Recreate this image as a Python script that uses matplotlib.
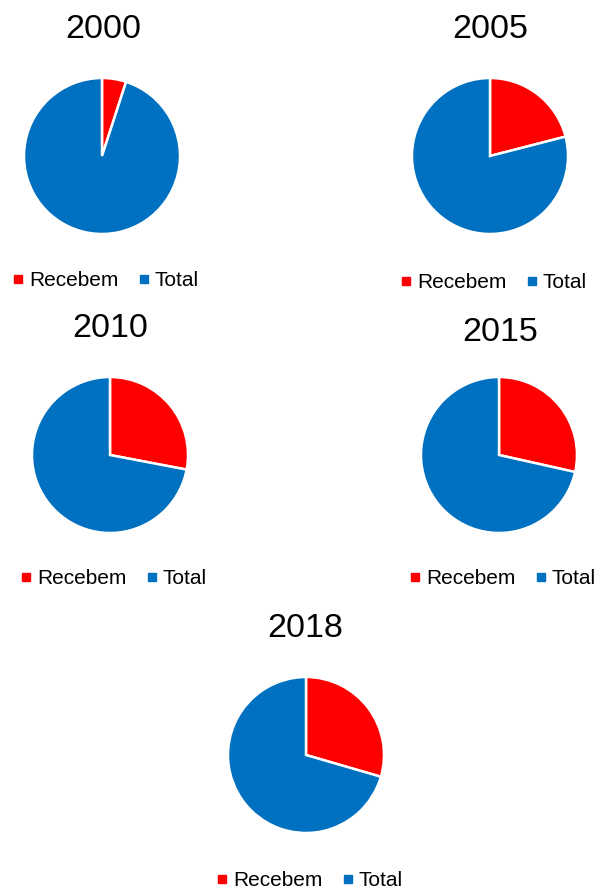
import matplotlib.pyplot as plt
from matplotlib.lines import Line2D

plt.rcParams['font.family'] = ['Liberation Sans', 'DejaVu Sans']

years = ['2000', '2005', '2010', '2015', '2018']
labels = ['Recebem', 'Total']
recebem = [5, 21, 28, 28.5, 29.5]
total = [95, 79, 72, 71.5, 70.5]
colors = ['#FF0000', '#0070C0']

W, H = 601, 890
# pixel centre of each pie, baseline of title and centre of legend
centers = [(102, 156), (490, 156), (110, 455), (499, 455), (306, 755)]
title_x = [103.5, 490.5, 110, 500, 305.5]
title_base = [38, 38, 337, 341, 637]
legend_y = [281, 283, 579, 579, 881]
R = 78
half = 90

fig = plt.figure(figsize=(W / 100, H / 100), dpi=100)

for i, yr in enumerate(years):
    cx, cy = centers[i]
    ax = fig.add_axes([(cx - half) / W, 1 - (cy + half) / H, 2 * half / W, 2 * half / H])
    ax.pie([recebem[i], total[i]], colors=colors, startangle=90, counterclock=False,
           wedgeprops={'edgecolor': 'white', 'linewidth': 1.8})
    lim = half / R
    ax.set_xlim(-lim, lim)
    ax.set_ylim(-lim, lim)
    ax.set_aspect('equal')
    ax.axis('off')

    fig.text(title_x[i], H - title_base[i], yr, transform=None, fontsize=24.5,
             ha='center', va='baseline', color='black')

    handles = [Line2D([], [], marker='s', linestyle='', color=c, markersize=5.2)
               for c in colors]
    fig.legend(handles, labels, loc='center', ncol=2, frameon=False,
               bbox_to_anchor=((cx + 4) / W, 1 - legend_y[i] / H), fontsize=15,
               handletextpad=0.25, columnspacing=1.0, handlelength=0.5,
               borderpad=0, borderaxespad=0)

fig.savefig('out.png', dpi=100)
